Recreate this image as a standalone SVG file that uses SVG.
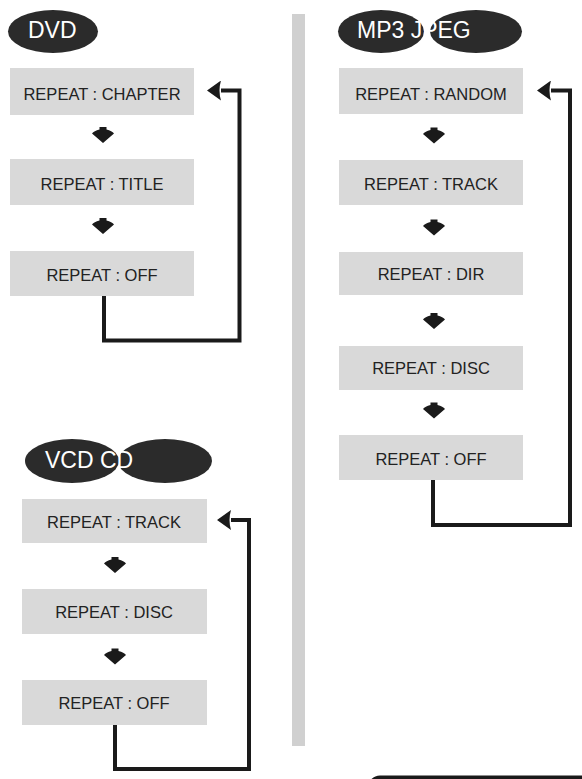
<svg xmlns="http://www.w3.org/2000/svg" width="582" height="779" viewBox="0 0 582 779">
<style>
.box{fill:#d9d9d9}
.lbl{font-family:"Liberation Sans",Arial,sans-serif;font-size:16.5px;fill:#222222;text-anchor:middle}
.hd{fill:#2b2b2b}
.hdt{font-family:"Liberation Sans",Arial,sans-serif;font-size:23px;fill:#ffffff}
.ln{fill:none;stroke:#1a1a1a;stroke-width:4;stroke-linejoin:miter}
</style>
<defs>
<marker id="ah" viewBox="0 0 14 20" refX="0" refY="10" markerWidth="14" markerHeight="20" markerUnits="userSpaceOnUse" orient="auto">
<path d="M0,0 L14,10 L0,20 Q3,10 0,0 Z" fill="#1a1a1a"/>
</marker>
<path id="dn" d="M-3.5,-8 L3.5,-8 L3.5,-5.5 Q9,-4 11,-1.5 L0,8 L-11,-1.5 Q-9,-4 -3.5,-5.5 Z" fill="#1a1a1a"/>
</defs>
<rect x="292" y="14" width="13" height="732" fill="#d0d0d0"/>
<g id="hdr-dvd">
<ellipse class="hd" cx="53" cy="31.5" rx="45" ry="21.5"/>
<text class="hdt" x="28" y="38">DVD</text>
</g>
<g id="hdr-mp3">
<ellipse class="hd" cx="381" cy="31.5" rx="43" ry="21.5"/>
<ellipse class="hd" cx="476" cy="31.5" rx="46" ry="21.5"/>
<text class="hdt" x="357" y="38">MP3 JPEG</text>
</g>
<g id="hdr-vcd">
<ellipse class="hd" cx="72" cy="461" rx="47" ry="22"/>
<ellipse class="hd" cx="165" cy="461" rx="47" ry="22"/>
<text class="hdt" x="45" y="468">VCD CD</text>
</g>
<g id="dvd-chapter"><rect class="box" x="10" y="68" width="184" height="47"/><text class="lbl" x="102" y="99.5">REPEAT : CHAPTER</text></g>
<g id="dvd-title"><rect class="box" x="10" y="159" width="184" height="46"/><text class="lbl" x="102" y="189.5">REPEAT : TITLE</text></g>
<g id="dvd-off"><rect class="box" x="10" y="251" width="184" height="45"/><text class="lbl" x="102" y="281">REPEAT : OFF</text></g>
<g id="mp3-random"><rect class="box" x="339" y="68" width="184" height="46"/><text class="lbl" x="431" y="99.5">REPEAT : RANDOM</text></g>
<g id="mp3-track"><rect class="box" x="339" y="160" width="184" height="45"/><text class="lbl" x="431" y="189.5">REPEAT : TRACK</text></g>
<g id="mp3-dir"><rect class="box" x="339" y="252" width="184" height="43"/><text class="lbl" x="431" y="279.5">REPEAT : DIR</text></g>
<g id="mp3-disc"><rect class="box" x="339" y="346" width="184" height="44"/><text class="lbl" x="431" y="373.5">REPEAT : DISC</text></g>
<g id="mp3-off"><rect class="box" x="339" y="435" width="184" height="45"/><text class="lbl" x="431" y="465">REPEAT : OFF</text></g>
<g id="vcd-track"><rect class="box" x="22" y="499" width="185" height="44"/><text class="lbl" x="114" y="528">REPEAT : TRACK</text></g>
<g id="vcd-disc"><rect class="box" x="22" y="589" width="185" height="45"/><text class="lbl" x="114" y="618">REPEAT : DISC</text></g>
<g id="vcd-off"><rect class="box" x="22" y="680" width="185" height="45"/><text class="lbl" x="114" y="708.5">REPEAT : OFF</text></g>
<g id="connectors">
<use href="#dn" x="103" y="135"/>
<use href="#dn" x="103" y="226"/>
<use href="#dn" x="434" y="135.5"/>
<use href="#dn" x="434" y="227.5"/>
<use href="#dn" x="434" y="321"/>
<use href="#dn" x="434" y="410.5"/>
<use href="#dn" x="115" y="565"/>
<use href="#dn" x="115" y="656.5"/>
<path class="ln" d="M104,296 V340.5 H239.5 V90.5 H221" marker-end="url(#ah)"/>
<path class="ln" d="M433,480 V525 H570 V90.5 H551" marker-end="url(#ah)"/>
<path class="ln" d="M115,725 V769 H249 V520 H231" marker-end="url(#ah)"/>
</g>
<rect x="368" y="775.5" width="240" height="30" rx="12" fill="#1a1a1a"/>
</svg>
